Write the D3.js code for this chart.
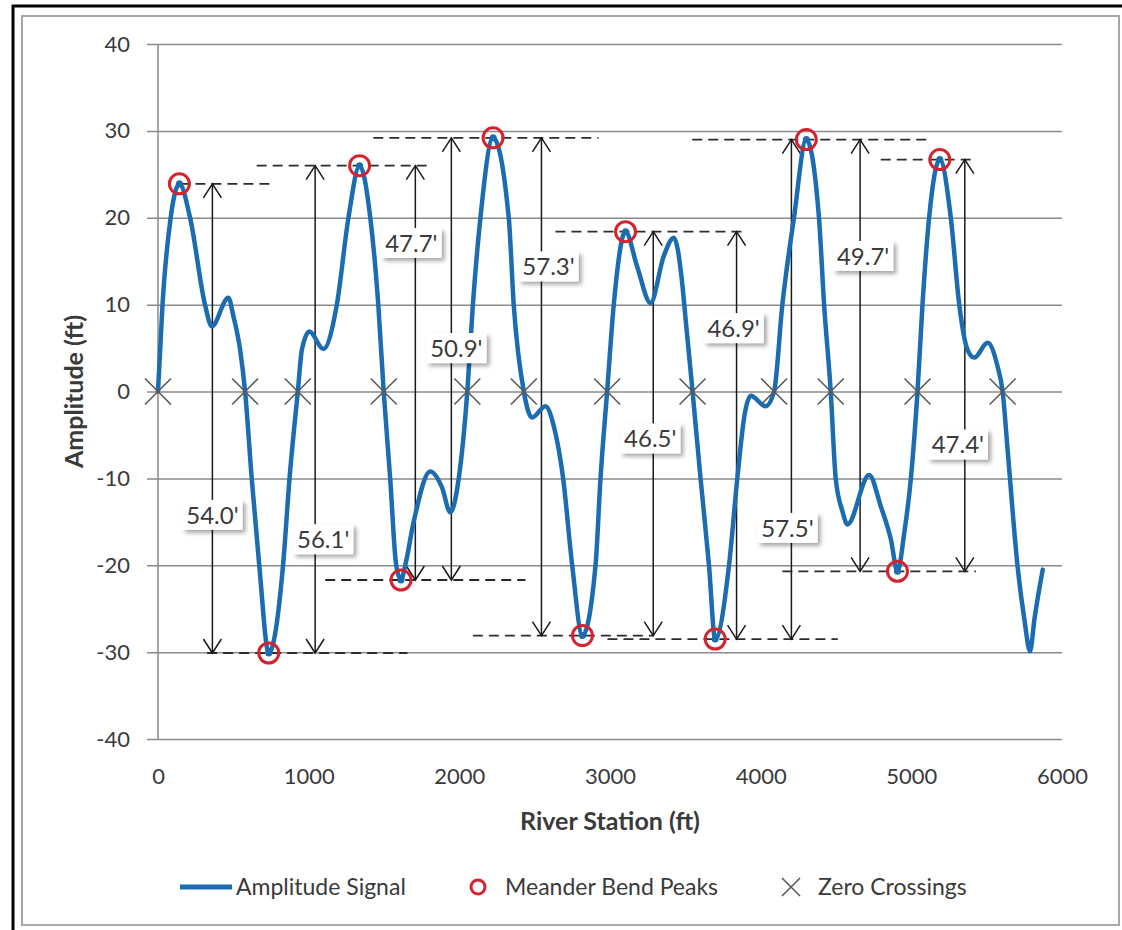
<!DOCTYPE html>
<html>
<head>
<meta charset="utf-8">
<script src="https://cdn.jsdelivr.net/npm/d3@7"></script>
<style>
  html, body { margin: 0; padding: 0; background: #fff; }
  svg { display: block; font-family: Lato, "Open Sans", sans-serif; }
</style>
</head>
<body>
<svg id="chart" width="1122" height="930"></svg>
<script>
// ---- Amplitude signal along the river (station ft, amplitude ft) ----
const signalStation = [0, 30, 84, 142, 213, 312, 357, 467, 500, 545, 578, 622, 672, 735, 830, 873, 928, 955, 1005, 1098, 1187, 1264, 1338, 1409, 1462, 1498, 1541, 1581, 1613, 1641, 1697, 1807, 1884, 1940, 1996, 2053, 2090, 2140, 2224, 2328, 2361, 2428, 2483, 2571, 2627, 2689, 2749, 2817, 2904, 2937, 2981, 3025, 3103, 3180, 3269, 3357, 3424, 3479, 3502, 3548, 3601, 3657, 3698, 3790, 3845, 3895, 3934, 4033, 4089, 4144, 4221, 4303, 4387, 4421, 4465, 4498, 4543, 4576, 4720, 4797, 4864, 4908, 4953, 4997, 5041, 5074, 5118, 5189, 5262, 5318, 5373, 5418, 5506, 5572, 5606, 5639, 5705, 5750, 5788, 5817, 5872];
const signalAmplitude = [0, 10, 20, 23.9, 20, 10, 7.5, 10.8, 8.7, 4.8, 0, -10, -20, -30.1, -20, -10, 0, 4.8, 6.9, 4.9, 10, 20, 26.0, 20, 10, 0, -10, -20, -21.7, -20, -15, -9.2, -11, -13.9, -10, 0, 10, 20, 29.2, 20, 10, 0, -3.0, -1.7, -4, -10, -20, -28.1, -20, -10, 0, 10, 18.4, 14.4, 10.2, 15.6, 17.7, 12.5, 8.3, 0, -10, -20, -28.5, -20, -10, -2.5, -0.5, -1.7, 0, 10, 20, 29.0, 20, 10, 0, -10, -13.8, -15.3, -9.6, -13.2, -17, -20.7, -16.3, -10, 0, 10, 20, 26.7, 20, 10, 4.8, 3.9, 5.6, 2.9, 0, -6.7, -20.1, -26.2, -29.9, -26.2, -20.5];

// ---- Meander bend peaks ----
const peakStation = [142, 735, 1338, 1613, 2224, 2817, 3103, 3698, 4303, 4908, 5189];
const peakAmplitude = [23.9, -30.1, 26.0, -21.7, 29.2, -28.1, 18.4, -28.5, 29.0, -20.7, 26.7];

// ---- Zero crossings ----
const zeroStation = [0, 578, 928, 1498, 2053, 2428, 2981, 3548, 4089, 4465, 5041, 5606];

// ---- Peak-to-peak amplitude measurements ----
const spanStation = [361, 1043, 1708, 1947, 2545, 3287, 3840, 4204, 4660, 5355];
const spanTop = [23.9, 26.0, 26.0, 29.2, 29.2, 18.4, 18.4, 29.0, 29.0, 26.7];
const spanBottom = [-30.1, -30.1, -21.7, -21.7, -28.1, -28.1, -28.5, -28.5, -20.7, -20.7];

// ---- Dashed reference levels at each bend peak ----
const levelAmplitude = [23.9, -30.1, 26.0, -21.7, 29.2, -28.1, 18.4, -28.5, 29.0, 26.7, -20.7];
const levelFrom = [142, 326, 655, 1110, 1429, 2090, 2638, 2983, 3546, 4797, 4144];
const levelTo = [764, 1655, 1786, 2439, 2924, 3290, 3900, 4512, 5130, 5429, 5429];

// ---- Axes ----
const xTicks = [0, 1000, 2000, 3000, 4000, 5000, 6000];
const yTicks = [-40, -30, -20, -10, 0, 10, 20, 30, 40];
const xTitle = "River Station (ft)";
const yTitle = "Amplitude (ft)";
const legendLabels = ["Amplitude Signal", "Meander Bend Peaks", "Zero Crossings"];

// Placement of each measurement tag: amplitude level along its arrow, and a small sideways nudge (px)
const tagLevel = [-14.2, -17.0, 17.1, 5.0, 14.4, -5.4, 7.3, -15.7, 15.6, -6.1];
const tagNudge = [0, 8, -4, 5, 7, -3, -3, -4, 3, -7];

// ---------------------------------------------------------------
const svg = d3.select("#chart");
const BLUE = "#1b6cb0", RED = "#d4222e", TEXT = "#3a3a3a", GRID = "#8a8a8a";

const x = d3.scaleLinear().domain([0, 6000]).range([158, 1062]);
const y = d3.scaleLinear().domain([-40, 40]).range([739, 44]);
const fmt = d => String(d);

const defs = svg.append("defs");
const f = defs.append("filter").attr("id", "tagShadow")
  .attr("x", "-20%").attr("y", "-30%").attr("width", "150%").attr("height", "180%");
f.append("feDropShadow").attr("dx", 3).attr("dy", 3).attr("stdDeviation", 2)
  .attr("flood-color", "#000").attr("flood-opacity", 0.35);

// Frame
svg.append("rect").attr("x", 22).attr("y", 16).attr("width", 1097).attr("height", 909)
  .attr("fill", "#fff").attr("stroke", "#a8a8a8").attr("stroke-width", 2);
svg.append("line").attr("x1", 12).attr("x2", 1122).attr("y1", 6).attr("y2", 6)
  .attr("stroke", "#000").attr("stroke-width", 3);
svg.append("line").attr("x1", 13).attr("x2", 13).attr("y1", 5).attr("y2", 930)
  .attr("stroke", "#000").attr("stroke-width", 3);

// Y axis with gridlines
const yAxis = svg.append("g").attr("transform", "translate(147,0)")
  .call(d3.axisLeft(y).tickValues(yTicks).tickSize(-(x(6000) - 147)).tickPadding(17).tickFormat(fmt));
yAxis.select(".domain").remove();
yAxis.selectAll(".tick line").attr("stroke", GRID).attr("stroke-width", 1.5);
yAxis.selectAll(".tick text").attr("fill", TEXT).attr("font-size", 22).attr("font-family", "Lato, sans-serif");

svg.append("line").attr("x1", x(0)).attr("x2", x(0)).attr("y1", y(40)).attr("y2", y(-40))
  .attr("stroke", GRID).attr("stroke-width", 1.5);

// X axis labels
const xAxis = svg.append("g").attr("transform", `translate(0,${y(-40)})`)
  .call(d3.axisBottom(x).tickValues(xTicks).tickSize(0).tickPadding(29).tickFormat(fmt));
xAxis.select(".domain").remove();
xAxis.selectAll(".tick text").attr("fill", TEXT).attr("font-size", 22).attr("font-family", "Lato, sans-serif");

// Axis titles
svg.append("text").attr("x", (x(0) + x(6000)) / 2).attr("y", 830)
  .attr("text-anchor", "middle").attr("font-weight", "bold").attr("font-size", 25)
  .attr("fill", TEXT).text(xTitle);
svg.append("text").attr("transform", `translate(83,${(y(40) + y(-40)) / 2}) rotate(-90)`)
  .attr("text-anchor", "middle").attr("font-weight", "bold").attr("font-size", 25)
  .attr("fill", TEXT).text(yTitle);

// Dashed reference levels
svg.append("g").selectAll("line").data(levelAmplitude).join("line")
  .attr("x1", (d, i) => x(levelFrom[i])).attr("x2", (d, i) => x(levelTo[i]))
  .attr("y1", d => y(d)).attr("y2", d => y(d))
  .attr("stroke", "#2b2b2b").attr("stroke-width", 1.8).attr("stroke-dasharray", "10,6");

// Double-headed measurement arrows
const arrows = svg.append("g").attr("stroke", "#1a1a1a").attr("stroke-width", 1.5).attr("fill", "none");
spanStation.forEach((s, i) => {
  const ax = x(s), yt = y(spanTop[i]), yb = y(spanBottom[i]);
  arrows.append("line").attr("x1", ax).attr("x2", ax).attr("y1", yt).attr("y2", yb);
  arrows.append("path").attr("d", `M${ax - 9},${yt + 14}L${ax},${yt}L${ax + 9},${yt + 14}`);
  arrows.append("path").attr("d", `M${ax - 9},${yb - 14}L${ax},${yb}L${ax + 9},${yb - 14}`);
});

// Amplitude signal
const line = d3.line().x(d => x(d[0])).y(d => y(d[1])).curve(d3.curveMonotoneX);
const signal = signalStation.map((s, i) => [s, signalAmplitude[i]]);
svg.append("path").datum(signal).attr("d", line)
  .attr("fill", "none").attr("stroke", BLUE).attr("stroke-width", 4.5)
  .attr("stroke-linejoin", "round").attr("stroke-linecap", "round");

// Meander bend peaks
const peaks = svg.append("g");
peaks.selectAll("circle.dot").data(peakStation).join("circle").attr("class", "dot")
  .attr("cx", d => x(d)).attr("cy", (d, i) => y(peakAmplitude[i])).attr("r", 3.5).attr("fill", BLUE);
peaks.selectAll("circle.ring").data(peakStation).join("circle").attr("class", "ring")
  .attr("cx", d => x(d)).attr("cy", (d, i) => y(peakAmplitude[i])).attr("r", 10)
  .attr("fill", "none").attr("stroke", RED).attr("stroke-width", 3);

// Zero crossings
const cross = (g, cx, cy, h) => g.append("path")
  .attr("d", `M${cx - h},${cy - h}L${cx + h},${cy + h}M${cx - h},${cy + h}L${cx + h},${cy - h}`)
  .attr("stroke", "#5a5a5a").attr("stroke-width", 1.6).attr("fill", "none");
const zeros = svg.append("g");
zeroStation.forEach(s => cross(zeros, x(s), y(0), 13));

// Measurement tags
const tags = svg.append("g");
spanStation.forEach((s, i) => {
  const label = (spanTop[i] - spanBottom[i]).toFixed(1) + "'";
  const g = tags.append("g").attr("transform", `translate(${x(s) + tagNudge[i]},${y(tagLevel[i])})`);
  const rect = g.append("rect").attr("fill", "#fff").attr("filter", "url(#tagShadow)");
  const t = g.append("text").attr("text-anchor", "middle").attr("dy", "0.36em")
    .attr("font-size", 24).attr("fill", TEXT).text(label);
  const w = t.node().getComputedTextLength() + 8;
  rect.attr("x", -w / 2).attr("y", -15).attr("width", w).attr("height", 30);
});

// Legend
const lg = svg.append("g").attr("font-size", 23).attr("fill", TEXT);
const ly = 887;
lg.append("line").attr("x1", 180).attr("x2", 232).attr("y1", ly).attr("y2", ly)
  .attr("stroke", BLUE).attr("stroke-width", 5);
lg.append("text").attr("x", 236).attr("y", ly).attr("dy", "0.35em").text(legendLabels[0]);
lg.append("circle").attr("cx", 478).attr("cy", ly).attr("r", 7)
  .attr("fill", "none").attr("stroke", RED).attr("stroke-width", 3);
lg.append("text").attr("x", 505).attr("y", ly).attr("dy", "0.35em").text(legendLabels[1]);
cross(lg, 791, ly, 9);
lg.append("text").attr("x", 818).attr("y", ly).attr("dy", "0.35em").text(legendLabels[2]);
</script>
</body>
</html>
